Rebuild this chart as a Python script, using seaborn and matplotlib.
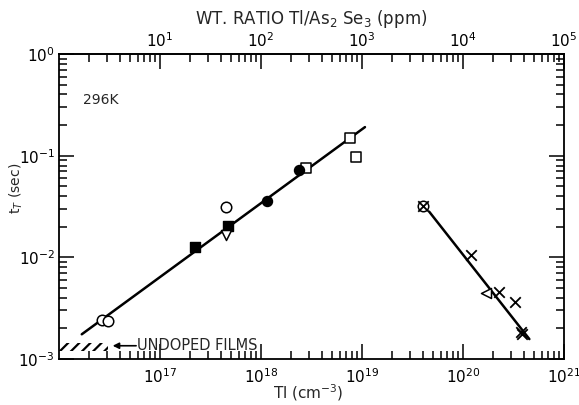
import numpy as np
import pandas as pd
import matplotlib
matplotlib.use("Agg")
import matplotlib.pyplot as plt
import seaborn as sns
from matplotlib import font_manager
from matplotlib.ticker import FixedLocator, FuncFormatter, NullFormatter

# ---------------- data ----------------
open_circle_x = [2.65e16, 3.08e16, 4.47e17]
open_circle_y = [2.42e-3, 2.37e-3, 3.11e-2]
filled_square_x = [2.22e17, 4.68e17]
filled_square_y = [1.25e-2, 2.05e-2]
open_tri_x = [4.47e17]
open_tri_y = [1.66e-2]
filled_circle_x = [1.15e18, 2.39e18]
filled_circle_y = [3.61e-2, 7.18e-2]
open_square_x = [2.79e18, 7.61e18, 8.73e18]
open_square_y = [7.52e-2, 0.148, 0.097]
ringed_x = [3.99e19]
ringed_y = [3.2e-2]
cross_x = [3.99e19, 1.2e20, 2.29e20, 3.25e20, 3.74e20, 3.88e20]
cross_y = [3.2e-2, 1.06e-2, 4.6e-3, 3.62e-3, 1.86e-3, 1.78e-3]
left_tri_x = [1.69e20]
left_tri_y = [4.44e-3]
fit_low_x = [1.68e16, 1.07e19]
fit_low_y = [1.75e-3, 0.191]
fit_high_x = [4.63e19, 4.54e20]
fit_high_y = [2.81e-2, 1.57e-3]
undoped_x = [1e16, 3.06e16]
undoped_lo = 1.20e-3
undoped_hi = 1.44e-3
bottom_ticks = [1e17, 1e18, 1e19, 1e20, 1e21]
top_ticks = [1e1, 1e2, 1e3, 1e4, 1e5]
y_ticks = [1e-3, 1e-2, 1e-1, 1e0]

# ---------------- style ----------------
sns.set_style("ticks")
plt.rcParams["font.family"] = ["DejaVu Sans"]
plt.rcParams["hatch.linewidth"] = 1.6
for a in ("xtick", "ytick"):
    plt.rcParams[f"{a}.direction"] = "in"
    plt.rcParams[f"{a}.major.size"] = 11
    plt.rcParams[f"{a}.minor.size"] = 5.5
    plt.rcParams[f"{a}.major.width"] = 1.1
    plt.rcParams[f"{a}.minor.width"] = 1.1
    plt.rcParams[f"{a}.color"] = "black"

names = {f.name for f in font_manager.fontManager.ttflist}
tick_font = "Liberation Sans Narrow" if "Liberation Sans Narrow" in names else "DejaVu Sans"
tick_size = 13 if tick_font != "DejaVu Sans" else 11


def minor_positions(lo_exp, hi_exp):
    return [m * 10.0 ** e for e in range(lo_exp, hi_exp) for m in range(2, 10)]


fig = plt.figure(figsize=(5.79, 4.05), dpi=100)
ax = fig.add_axes([59 / 579, (405 - 359) / 405, 505 / 579, 305 / 405])
ax.set_xscale("log")
ax.set_yscale("log")
ax.set_xlim(1e16, 1e21)
ax.set_ylim(1e-3, 1e0)

# fit lines
sns.lineplot(x=fit_low_x, y=fit_low_y, color="black", lw=1.8, ax=ax)
sns.lineplot(x=fit_high_x, y=fit_high_y, color="black", lw=1.8, ax=ax)

ms = 52
sns.scatterplot(x=open_circle_x, y=open_circle_y, marker="o", s=ms * 1.1,
                color="white", edgecolor="black", linewidth=1.1, ax=ax, zorder=3)
sns.scatterplot(x=filled_square_x, y=filled_square_y, marker="s", s=ms * 0.85,
                color="black", edgecolor="black", linewidth=1.0, ax=ax, zorder=3)
sns.scatterplot(x=open_tri_x, y=open_tri_y, marker="v", s=ms,
                color="white", edgecolor="black", linewidth=1.1, ax=ax, zorder=3)
sns.scatterplot(x=open_square_x, y=open_square_y, marker="s", s=ms,
                color="white", edgecolor="black", linewidth=1.1, ax=ax, zorder=3)
sns.scatterplot(x=filled_circle_x, y=filled_circle_y, marker="o", s=ms,
                color="black", edgecolor="black", linewidth=1.0, ax=ax, zorder=4)
sns.scatterplot(x=ringed_x, y=ringed_y, marker="o", s=ms * 1.1,
                color="white", edgecolor="black", linewidth=1.1, ax=ax, zorder=3)
sns.scatterplot(x=cross_x, y=cross_y, marker="x", s=ms * 1.1,
                color="black", linewidth=1.3, ax=ax, zorder=4)
sns.scatterplot(x=left_tri_x, y=left_tri_y, marker="<", s=ms,
                color="white", edgecolor="black", linewidth=1.1, ax=ax, zorder=3)

# undoped films band
ax.fill_between(undoped_x, undoped_lo, undoped_hi, facecolor="none",
                edgecolor="black", hatch="///", linewidth=0)
ax.annotate("", xy=(3.4e16, 1.35e-3), xytext=(5.8e16, 1.35e-3),
            arrowprops=dict(arrowstyle="-|>", color="black", lw=1.2,
                            shrinkA=0, shrinkB=0, mutation_scale=9))
ax.text(5.9e16, 1.35e-3, "UNDOPED FILMS", ha="left", va="center", fontsize=10.5)
ax.text(1.72e16, 0.353, "296K", ha="left", va="center", fontsize=10)


def mt(v, pos=None):
    e = int(round(np.log10(v)))
    return r"$\mathdefault{10^{%d}}$" % e


ax.xaxis.set_major_locator(FixedLocator(bottom_ticks))
ax.xaxis.set_major_formatter(FuncFormatter(mt))
ax.xaxis.set_minor_locator(FixedLocator(minor_positions(16, 21)))
ax.xaxis.set_minor_formatter(NullFormatter())
ax.yaxis.set_major_locator(FixedLocator(y_ticks))
ax.yaxis.set_major_formatter(FuncFormatter(mt))
ax.yaxis.set_minor_locator(FixedLocator(minor_positions(-3, 0)))
ax.yaxis.set_minor_formatter(NullFormatter())

ax.tick_params(which="both", direction="in", top=False, right=True, left=True,
               bottom=True, color="black", width=1.1)
ax.tick_params(which="major", length=11, labelsize=tick_size,
               labelcolor="black", labelfontfamily=tick_font)
ax.tick_params(which="minor", length=5.5)
ax.tick_params(axis="x", which="major", pad=6)
ax.tick_params(axis="y", which="major", pad=3)
for sp in ax.spines.values():
    sp.set_linewidth(1.3)
    sp.set_color("black")
    sp.set_visible(True)

secax = ax.secondary_xaxis("top", functions=(lambda x: x / 1e16, lambda x: x * 1e16))
secax.xaxis.set_major_locator(FixedLocator(top_ticks))
secax.xaxis.set_major_formatter(FuncFormatter(mt))
secax.xaxis.set_minor_locator(FixedLocator(minor_positions(0, 5)))
secax.xaxis.set_minor_formatter(NullFormatter())
secax.tick_params(which="both", direction="in", color="black", width=1.1)
secax.tick_params(which="major", length=11, pad=3, labelsize=tick_size,
                  labelcolor="black", labelfontfamily=tick_font)
secax.tick_params(which="minor", length=5.5)
secax.spines["top"].set_linewidth(1.3)
secax.set_xlabel(r"WT. RATIO Tl/As$_2$ Se$_3$ (ppm)", fontsize=12, labelpad=5)

ax.set_xlabel(r"Tl (cm$^{-3}$)", fontsize=11)
ax.xaxis.set_label_coords(0.493, -0.11)
ax.xaxis.label.set_va("center")
ax.set_ylabel(r"t$_T$ (sec)", fontsize=10)
ax.yaxis.set_label_coords(-0.085, 0.56)
ax.yaxis.label.set_va("center")
ax.yaxis.label.set_ha("center")

fig.savefig("out.png", dpi=100)
